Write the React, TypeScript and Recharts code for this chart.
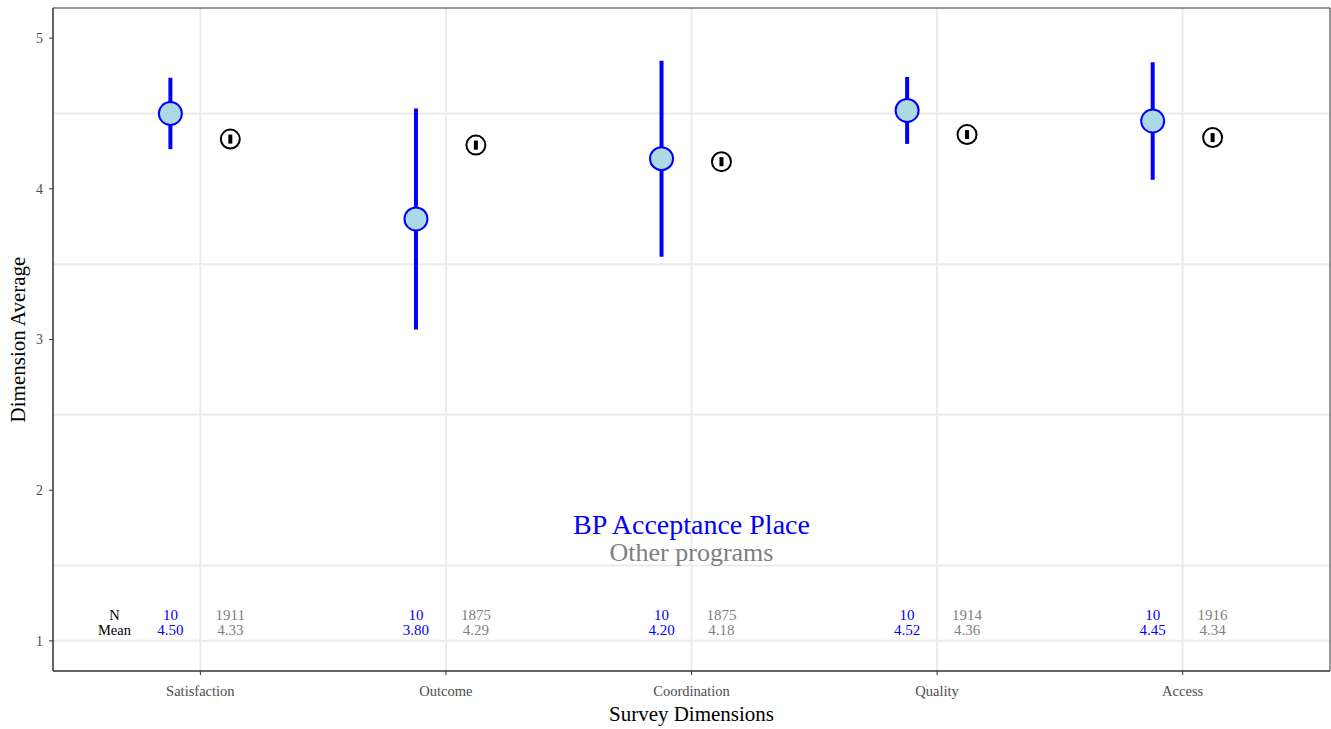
import { ComposedChart, Scatter, ErrorBar, XAxis, YAxis, CartesianGrid, ReferenceArea } from 'recharts';

const categories = ['Satisfaction', 'Outcome', 'Coordination', 'Quality', 'Access'];
const programMeans = [4.5, 3.8, 4.2, 4.52, 4.45];
const programErr = [0.237, 0.733, 0.65, 0.222, 0.39];
const programN = [10, 10, 10, 10, 10];
const otherMeans = [4.33, 4.29, 4.18, 4.36, 4.34];
const otherErr = [0.03, 0.03, 0.03, 0.03, 0.03];
const otherN = [1911, 1875, 1875, 1914, 1916];
const yTicks = [1, 2, 3, 4, 5];
const yMinor = [1.5, 2.5, 3.5, 4.5];

const FONT = '"Liberation Serif", "Times New Roman", serif';
const BLUE = '#0000FF';
const GREY = '#7F7F7F';
const DODGE = 0.122;
const N_ROW = 1.172;
const MEAN_ROW = 1.072;

const programData = categories.map((c, i) => ({ x: i + 1 - DODGE, y: programMeans[i], err: programErr[i] }));
const otherData = categories.map((c, i) => ({ x: i + 1 + DODGE, y: otherMeans[i], err: otherErr[i] }));

const programLabels = categories.flatMap((c, i) => [
  { x: i + 1 - DODGE, y: N_ROW, label: String(programN[i]) },
  { x: i + 1 - DODGE, y: MEAN_ROW, label: programMeans[i].toFixed(2) },
]);
const otherLabels = categories.flatMap((c, i) => [
  { x: i + 1 + DODGE, y: N_ROW, label: String(otherN[i]) },
  { x: i + 1 + DODGE, y: MEAN_ROW, label: otherMeans[i].toFixed(2) },
]);
const rowNames = [
  { x: 0.65, y: N_ROW, label: 'N' },
  { x: 0.65, y: MEAN_ROW, label: 'Mean' },
];
const legendBlue = [{ x: 3, y: 1.77, label: 'BP Acceptance Place' }];
const legendGrey = [{ x: 3, y: 1.585, label: 'Other programs' }];

const textShape = (fill: string, size: number) => (props: any) => (
  <text
    x={props.cx}
    y={props.cy}
    textAnchor="middle"
    dominantBaseline="central"
    fill={fill}
    fontSize={size}
    fontFamily={FONT}
  >
    {props.payload.label}
  </text>
);

const BlueDot = (props: any) => (
  <circle cx={props.cx} cy={props.cy} r={11.5} fill="#ADD8E6" stroke={BLUE} strokeWidth={2} />
);
const OpenDot = (props: any) => (
  <circle cx={props.cx} cy={props.cy} r={9.5} fill="none" stroke="#000" strokeWidth={2} />
);

export default function App() {
  return (
    <div style={{ position: 'absolute', left: 0, top: 0, background: '#fff' }}>
      <ComposedChart width={1331} height={729} margin={{ top: 8, right: 1, left: 0, bottom: 0 }}>
        <CartesianGrid
          stroke="#EBEBEB"
          strokeWidth={2}
          horizontalValues={[...yTicks, ...yMinor]}
          verticalValues={[1, 2, 3, 4, 5]}
        />
        <XAxis
          type="number"
          dataKey="x"
          domain={[0.4, 5.6]}
          ticks={[1, 2, 3, 4, 5]}
          tickFormatter={(v: number) => categories[v - 1]}
          height={58}
          tickSize={4}
          tickMargin={11}
          stroke="#333"
          tick={{ fill: '#4D4D4D', fontSize: 14.5, fontFamily: FONT }}
          label={{ value: 'Survey Dimensions', position: 'insideBottom', offset: 8, fill: '#000', fontSize: 21, fontFamily: FONT }}
        />
        <YAxis
          type="number"
          dataKey="y"
          domain={[0.8, 5.2]}
          ticks={yTicks}
          width={53}
          tickSize={4}
          tickMargin={6}
          stroke="#333"
          tick={{ fill: '#4D4D4D', fontSize: 14, fontFamily: FONT }}
          label={{
            value: 'Dimension Average',
            angle: -90,
            position: 'insideLeft',
            offset: 18,
            fill: '#000',
            fontSize: 21,
            fontFamily: FONT,
            style: { textAnchor: 'middle' },
          }}
        />
        <ReferenceArea x1={0.4} x2={5.6} y1={0.8} y2={5.2} fill="none" fillOpacity={0} stroke="#333" strokeWidth={1} />
        <Scatter data={programData} shape={BlueDot} isAnimationActive={false}>
          <ErrorBar dataKey="err" direction="y" width={0} stroke={BLUE} strokeWidth={4} />
        </Scatter>
        <Scatter data={otherData} shape={OpenDot} isAnimationActive={false}>
          <ErrorBar dataKey="err" direction="y" width={0} stroke="#000" strokeWidth={4} />
        </Scatter>
        <Scatter data={rowNames} shape={textShape('#000', 14.5)} isAnimationActive={false} />
        <Scatter data={programLabels} shape={textShape(BLUE, 15)} isAnimationActive={false} />
        <Scatter data={otherLabels} shape={textShape(GREY, 15)} isAnimationActive={false} />
        <Scatter data={legendBlue} shape={textShape(BLUE, 28)} isAnimationActive={false} />
        <Scatter data={legendGrey} shape={textShape(GREY, 26)} isAnimationActive={false} />
      </ComposedChart>
    </div>
  );
}
